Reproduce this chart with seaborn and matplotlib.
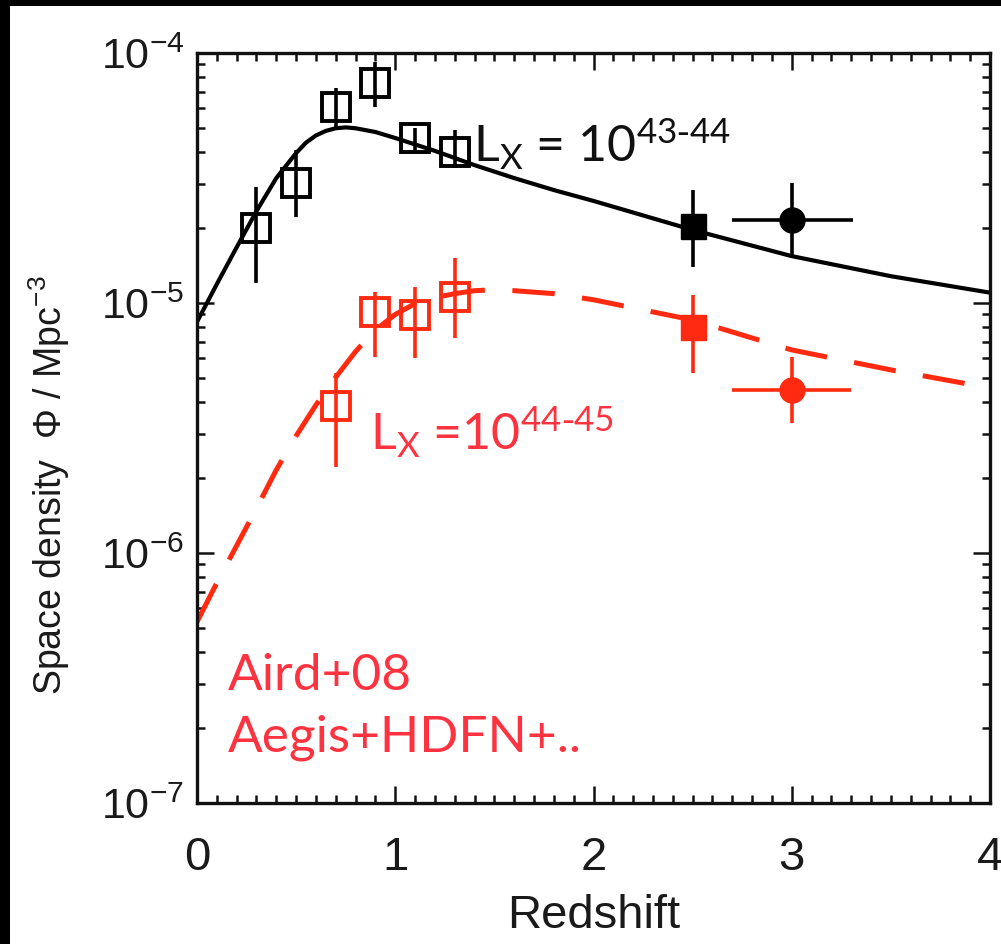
import numpy as np
import pandas as pd
import matplotlib
matplotlib.use("Agg")
import matplotlib.pyplot as plt
from matplotlib.patches import Rectangle
from matplotlib.ticker import MultipleLocator, LogLocator, LogFormatterSciNotation, NullFormatter
import seaborn as sns

# ---- model curves (redshift vs space density, Mpc^-3) ----
z_model = [0.0, 0.1, 0.2, 0.3, 0.4, 0.5, 0.55, 0.6, 0.65, 0.7, 0.75, 0.8, 0.9, 1.0,
           1.2, 1.4, 1.6, 1.8, 2.0, 2.5, 3.0, 3.5, 4.0]
phi_model_low = [8.4e-6, 1.19e-5, 1.67e-5, 2.33e-5, 3.16e-5, 3.98e-5, 4.38e-5,
                 4.68e-5, 4.88e-5, 5.0e-5, 5.04e-5, 5.0e-5, 4.83e-5, 4.57e-5,
                 4.06e-5, 3.56e-5, 3.16e-5, 2.83e-5, 2.56e-5, 1.96e-5, 1.54e-5,
                 1.28e-5, 1.10e-5]

z_model_hi = [0.0, 0.1, 0.2, 0.3, 0.4, 0.5, 0.6, 0.7, 0.8, 0.9, 1.0, 1.1,
              1.2, 1.3, 1.4, 1.5, 1.6, 1.8, 2.0, 2.5, 3.0, 3.5, 4.0]
phi_model_high = [5.3e-7, 7.6e-7, 1.07e-6, 1.51e-6, 2.15e-6, 2.94e-6, 3.91e-6,
                  5.05e-6, 6.4e-6, 7.8e-6, 9.0e-6, 9.95e-6, 1.05e-5, 1.09e-5,
                  1.12e-5, 1.13e-5, 1.12e-5, 1.09e-5, 1.03e-5, 8.55e-6, 6.49e-6,
                  5.40e-6, 4.57e-6]

# ---- Lx = 10^43-44 measurements ----
z_open_low = [0.3, 0.5, 0.7, 0.9, 1.1, 1.3]
phi_open_low = [2.0e-5, 3.02e-5, 6.08e-5, 7.59e-5, 4.57e-5, 4.02e-5]
phi_open_low_hi = [2.91e-5, 4.09e-5, 7.24e-5, 9.2e-5, 5.0e-5, 4.92e-5]
phi_open_low_lo = [1.20e-5, 2.21e-5, 5.0e-5, 6.08e-5, 4.09e-5, 3.47e-5]

z_sq_low = [2.5]
phi_sq_low = [2.03e-5]
phi_sq_low_hi = [2.83e-5]
phi_sq_low_lo = [1.39e-5]

z_dot_low = [3.0]
z_dot_low_range = [(2.70, 3.31)]
phi_dot_low = [2.15e-5]
phi_dot_low_hi = [3.02e-5]
phi_dot_low_lo = [1.51e-5]

# ---- Lx = 10^44-45 measurements ----
z_open_high = [0.7, 0.9, 1.1, 1.3]
phi_open_high = [3.87e-6, 9.2e-6, 8.95e-6, 1.06e-5]
phi_open_high_hi = [5.25e-6, 1.11e-5, 1.16e-5, 1.51e-5]
phi_open_high_lo = [2.21e-6, 6.08e-6, 6.03e-6, 7.24e-6]

z_sq_high = [2.5]
phi_sq_high = [8.0e-6]
phi_sq_high_hi = [1.08e-5]
phi_sq_high_lo = [5.25e-6]

z_dot_high = [3.0]
z_dot_high_range = [(2.70, 3.30)]
phi_dot_high = [4.49e-6]
phi_dot_high_hi = [6.08e-6]
phi_dot_high_lo = [3.31e-6]

BLACK = "#000000"
RED = "#ff2a10"
RED_TEXT = "#ff3340"
INK = "#1a1a1a"

sns.set_theme(style="ticks")
plt.rcParams["font.family"] = ["Liberation Sans", "DejaVu Sans"]
plt.rcParams["mathtext.default"] = "regular"

fig = plt.figure(figsize=(10.01, 9.44), dpi=100)
fig.patch.set_facecolor("white")
ax = fig.add_axes([197 / 1001, 1 - 803 / 944, (990 - 197) / 1001, (803 - 53) / 944])
ax.set_facecolor("white")

# model curves
df_low = pd.DataFrame({"z": z_model, "phi": phi_model_low})
df_high = pd.DataFrame({"z": z_model_hi, "phi": phi_model_high})
sns.lineplot(data=df_low, x="z", y="phi", ax=ax, color=BLACK, lw=3.0,
             sort=False, zorder=2)
sns.lineplot(data=df_high, x="z", y="phi", ax=ax, color=RED, lw=3.6,
             sort=False, zorder=2)
ax.lines[-1].set_dashes([8.5, 5.5])


def yerr(v, lo, hi):
    v, lo, hi = map(np.asarray, (v, lo, hi))
    return np.vstack([v - lo, hi - v])


def xerr(z, ranges):
    z = np.asarray(z)
    lo = np.array([r[0] for r in ranges])
    hi = np.array([r[1] for r in ranges])
    return np.vstack([z - lo, hi - z])


ebkw = dict(elinewidth=2.6, capsize=0, zorder=3)

# black points
ax.errorbar(z_open_low, phi_open_low,
            yerr=yerr(phi_open_low, phi_open_low_lo, phi_open_low_hi),
            fmt="s", ms=20, mfc="none", mec=BLACK, mew=2.8, ecolor=BLACK, **ebkw)
ax.errorbar(z_sq_low, phi_sq_low,
            yerr=yerr(phi_sq_low, phi_sq_low_lo, phi_sq_low_hi),
            fmt="s", ms=18, mfc=BLACK, mec=BLACK, ecolor=BLACK, **ebkw)
ax.errorbar(z_dot_low, phi_dot_low,
            yerr=yerr(phi_dot_low, phi_dot_low_lo, phi_dot_low_hi),
            xerr=xerr(z_dot_low, z_dot_low_range),
            fmt="o", ms=18, mfc=BLACK, mec=BLACK, ecolor=BLACK, **ebkw)

# red points
ax.errorbar(z_open_high, phi_open_high,
            yerr=yerr(phi_open_high, phi_open_high_lo, phi_open_high_hi),
            fmt="s", ms=20, mfc="none", mec=RED, mew=2.8, ecolor=RED, **ebkw)
ax.errorbar(z_sq_high, phi_sq_high,
            yerr=yerr(phi_sq_high, phi_sq_high_lo, phi_sq_high_hi),
            fmt="s", ms=18, mfc=RED, mec=RED, ecolor=RED, **ebkw)
ax.errorbar(z_dot_high, phi_dot_high,
            yerr=yerr(phi_dot_high, phi_dot_high_lo, phi_dot_high_hi),
            xerr=xerr(z_dot_high, z_dot_high_range),
            fmt="o", ms=18, mfc=RED, mec=RED, ecolor=RED, **ebkw)

# axes
ax.set_yscale("log")
ax.set_xlim(0, 4)
ax.set_ylim(1e-7, 1e-4)
ax.xaxis.set_major_locator(MultipleLocator(1))
ax.xaxis.set_minor_locator(MultipleLocator(0.1))
ax.yaxis.set_major_locator(LogLocator(base=10, numticks=10))
ax.yaxis.set_minor_locator(LogLocator(base=10, subs=np.arange(2, 10), numticks=20))
ax.yaxis.set_major_formatter(LogFormatterSciNotation())
ax.yaxis.set_minor_formatter(NullFormatter())

for s in ax.spines.values():
    s.set_linewidth(2.4)
    s.set_color("#111111")
    s.set_visible(True)

ax.tick_params(which="both", direction="in", top=True, right=True,
               color="#111111", width=1.8)
ax.tick_params(which="major", length=12)
ax.tick_params(which="minor", length=6)
ax.tick_params(axis="x", which="major", labelsize=34, pad=24, labelcolor=INK)
ax.tick_params(axis="y", which="major", labelsize=31, pad=9, labelcolor=INK)

ax.set_xlabel("Redshift", fontsize=34, color=INK, labelpad=10)
ax.set_ylabel("Space density  \u03a6 / Mpc$^{-3}$", fontsize=27, color=INK)
ax.yaxis.set_label_coords(-0.158, 0.424)

# annotations
TXT_FONT = ["Lato", "DejaVu Sans"]
ax.text(1.39, 3.66e-5, r"L$_\mathregular{X}$ = 10$^\mathregular{43\text{-}44}$",
        fontsize=36, family=TXT_FONT, color="#111111", va="baseline", ha="left")
ax.text(0.873, 2.58e-6, r"L$_\mathregular{X}$ =10$^\mathregular{44\text{-}45}$",
        fontsize=36, family=TXT_FONT, color=RED_TEXT, va="baseline", ha="left")
ax.text(0.156, 2.83e-7, "Aird+08", fontsize=37, family=TXT_FONT,
        color=RED_TEXT, va="baseline", ha="left")
ax.text(0.156, 1.6e-7, "Aegis+HDFN+..", fontsize=37, family=TXT_FONT,
        color=RED_TEXT, va="baseline", ha="left")

# dark frame along the top and left edges of the figure
fig.patches.append(Rectangle((0, 1 - 6 / 944), 1, 6 / 944, transform=fig.transFigure,
                             facecolor="black", edgecolor="none", zorder=10))
fig.patches.append(Rectangle((0, 0), 10 / 1001, 1, transform=fig.transFigure,
                             facecolor="black", edgecolor="none", zorder=10))

fig.savefig("out.png", dpi=100)
